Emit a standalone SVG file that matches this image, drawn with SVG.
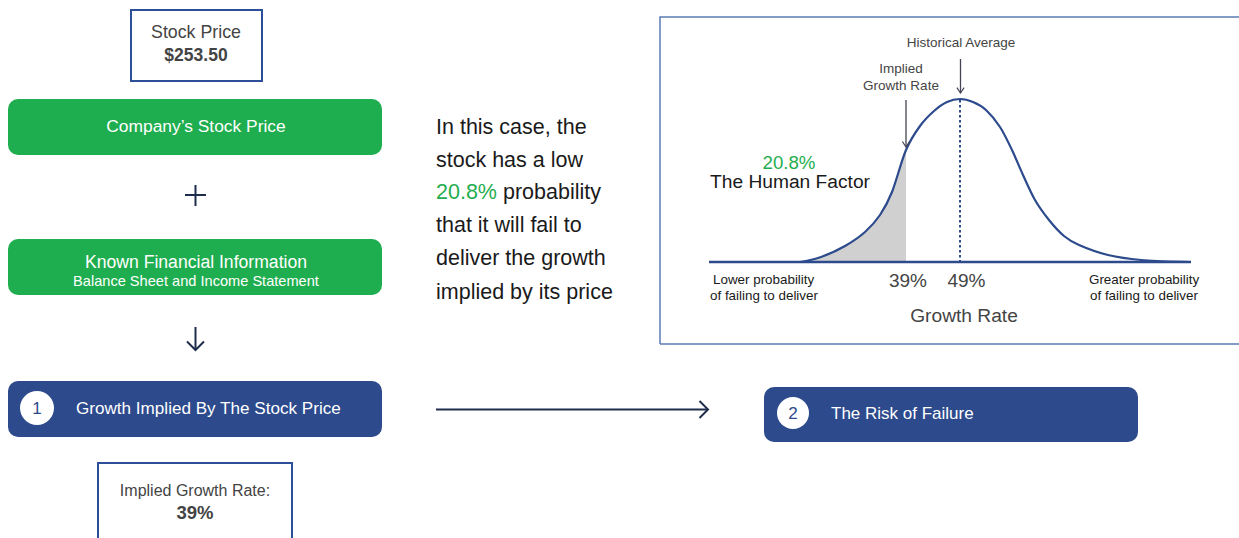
<svg xmlns="http://www.w3.org/2000/svg" width="1239" height="538" viewBox="0 0 1239 538">
<defs>
<style>
text{font-family:"Liberation Sans",Arial,sans-serif}
.wbox{fill:#fff;stroke:#2d4f9a;stroke-width:2}
.green{fill:#1fae4f}
.blue{fill:#2c4a8c}
.wt{fill:#fff}
.gt{fill:#444}
.dk{fill:#1a1a1a}
.conn{stroke:#1f2d4d;stroke-width:2;fill:none}
.small{fill:none;stroke:#445;stroke-width:1.3}
</style>
<marker id="chev" viewBox="0 0 20 20" refX="18" refY="10" markerWidth="20" markerHeight="20" markerUnits="userSpaceOnUse" orient="auto">
<path d="M9.5,1.5 L18,10 L9.5,18.5" fill="none" stroke="#1f2d4d" stroke-width="2"/>
</marker>
<marker id="chevs" viewBox="0 0 10 10" refX="9" refY="5" markerWidth="9" markerHeight="9" markerUnits="userSpaceOnUse" orient="auto">
<path d="M3,1 L9,5 L3,9" fill="none" stroke="#445" stroke-width="1.3"/>
</marker>
</defs>

<g id="stock-price">
<rect class="wbox" x="131" y="10" width="131" height="71"/>
<text class="gt" x="196" y="37.5" font-size="17.8" text-anchor="middle">Stock Price</text>
<text class="gt" x="196" y="61" font-size="17.5" font-weight="bold" text-anchor="middle">$253.50</text>
</g>

<g id="company-stock-price">
<rect class="green" x="8" y="99" width="374" height="56" rx="10"/>
<text class="wt" x="196" y="132" font-size="17.4" text-anchor="middle">Company’s Stock Price</text>
</g>

<g id="known-financial">
<rect class="green" x="8" y="239" width="374" height="56" rx="10"/>
<text class="wt" x="196" y="268" font-size="17.6" text-anchor="middle">Known Financial Information</text>
<text class="wt" x="196" y="286" font-size="14.6" text-anchor="middle">Balance Sheet and Income Statement</text>
</g>

<g id="growth-implied">
<rect class="blue" x="8" y="381" width="374" height="56" rx="10"/>
<circle cx="37" cy="408" r="17" fill="#fff"/>
<text x="37" y="414" font-size="17" text-anchor="middle" fill="#2c4a8c">1</text>
<text class="wt" x="76" y="414" font-size="17.1">Growth Implied By The Stock Price</text>
</g>

<g id="implied-growth-rate">
<rect class="wbox" x="98" y="463" width="194" height="90"/>
<text class="gt" x="195" y="496" font-size="16" text-anchor="middle">Implied Growth Rate:</text>
<text class="gt" x="195" y="518.5" font-size="18.5" font-weight="bold" text-anchor="middle">39%</text>
</g>

<g id="explanation">
<text class="dk" font-size="21.5">
<tspan x="436" y="133.5">In this case, the</tspan>
<tspan x="436" y="166.5">stock has a low</tspan>
<tspan x="436" y="198.5"><tspan fill="#1fae4f">20.8%</tspan> probability</tspan>
<tspan x="436" y="231.5">that it will fail to</tspan>
<tspan x="436" y="264.5">deliver the growth</tspan>
<tspan x="436" y="298.5">implied by its price</tspan>
</text>
</g>

<g id="risk-of-failure">
<rect class="blue" x="764" y="387" width="374" height="55" rx="10"/>
<circle cx="793" cy="413" r="16" fill="#fff"/>
<text x="793" y="419" font-size="17" text-anchor="middle" fill="#2c4a8c">2</text>
<text class="wt" x="831" y="419" font-size="17">The Risk of Failure</text>
</g>

<g id="chart">
<path d="M660,344 L660,17 L1245,17 M660,344 L1245,344" fill="none" stroke="#5b7bb5" stroke-width="1.5"/>
<path d="M800,262 C805.2,261.2 813.5,259.7 821,257 C828.5,254.3 837.7,250.2 845,246 C852.3,241.8 859.2,237.2 865,232 C870.8,226.8 875.5,221.7 880,215 C884.5,208.3 887.7,202.8 892,192 C896.3,181.2 901.3,161 906,150 L906,262 Z" fill="#d0d0d0"/>
<path d="M709,262 L1191,262" stroke="#2c4a8c" stroke-width="2.5" fill="none"/>
<path d="M709,262 L800,262 C805.2,261.2 813.5,259.7 821,257 C828.5,254.3 837.7,250.2 845,246 C852.3,241.8 859.2,237.2 865,232 C870.8,226.8 875.5,221.7 880,215 C884.5,208.3 887.7,202.8 892,192 C896.3,181.2 901.3,161 906,150 C910.7,139 915.3,132.5 920,126 C924.7,119.5 929.5,115 934,111 C938.5,107 942.7,104 947,102 C951.3,100 955.7,99 960,99 C964.3,99 968.7,100.2 973,102 C977.3,103.8 981.5,105.8 986,110 C990.5,114.2 995.7,120.3 1000,127 C1004.3,133.7 1008.2,142 1012,150 C1015.8,158 1019.2,166.7 1023,175 C1026.8,183.3 1030.7,192.5 1035,200 C1039.3,207.5 1044.2,214 1049,220 C1053.8,226 1059,231.8 1064,236 C1069,240.2 1071.7,241.8 1079,245 C1086.3,248.2 1097.7,252.5 1108,255 C1118.3,257.5 1127.2,258.8 1141,260 C1154.8,261.2 1181.2,261.7 1191,262" stroke="#2c4a8c" stroke-width="2.2" fill="none"/>
<line x1="960" y1="100" x2="960" y2="262" stroke="#2c4a8c" stroke-width="2" stroke-dasharray="2.5,2.5"/>
<line class="small" x1="960.5" y1="59" x2="960.5" y2="93" marker-end="url(#chevs)"/>
<line class="small" x1="906" y1="100" x2="906" y2="147" marker-end="url(#chevs)"/>
<text class="gt" x="961" y="47" font-size="13.5" text-anchor="middle">Historical Average</text>
<text class="gt" x="901" y="73" font-size="13.5" text-anchor="middle">Implied</text>
<text class="gt" x="901" y="90" font-size="13.5" text-anchor="middle">Growth Rate</text>
<text x="789" y="168.5" font-size="18.7" fill="#1fae4f" text-anchor="middle">20.8%</text>
<text class="dk" x="710" y="188" font-size="19.2">The Human Factor</text>
<text class="gt" x="908" y="286.5" font-size="19" text-anchor="middle">39%</text>
<text class="gt" x="966.5" y="286.5" font-size="19" text-anchor="middle">49%</text>
<text class="dk" font-size="13.4"><tspan x="713" y="284">Lower probability</tspan><tspan x="710" y="300">of failing to deliver</tspan></text>
<text class="dk" font-size="13.4"><tspan x="1089" y="284">Greater probability</tspan><tspan x="1090" y="300">of failing to deliver</tspan></text>
<text class="gt" x="964" y="322" font-size="19.2" text-anchor="middle">Growth Rate</text>
</g>

<g id="connectors">
<path class="conn" d="M185,195 L206,195 M195.5,185 L195.5,206"/>
<line class="conn" x1="195.5" y1="327" x2="195.5" y2="350" marker-end="url(#chev)"/>
<line class="conn" x1="436" y1="409.5" x2="708" y2="409.5" marker-end="url(#chev)"/>
</g>
</svg>
